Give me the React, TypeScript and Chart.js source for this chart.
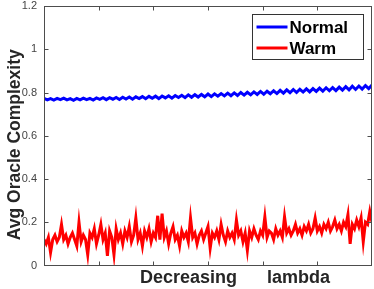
import React, { useEffect, useRef } from 'react';
import { Chart, registerables } from 'chart.js';
Chart.register(...registerables);

const seriesNames = ['Normal', 'Warm'];
const seriesColors = ['#0000ff', '#ff0000'];
const xTitle = 'Decreasing      lambda';
const yTitle = 'Avg Oracle Complexity';
const xMax = 300;
const xStep = 50;
const yMax = 1.2;
const yStep = 0.2;
const normalXStep = 3;
const warmXStep = 2;

const normalValues = [
  0.773, 0.766, 0.772, 0.765, 0.773, 0.767, 0.774, 0.766, 0.772, 0.764,
  0.773, 0.766, 0.774, 0.767, 0.773, 0.765, 0.775, 0.768, 0.776, 0.767,
  0.776, 0.769, 0.777, 0.768, 0.778, 0.770, 0.779, 0.769, 0.780, 0.772,
  0.781, 0.771, 0.782, 0.773, 0.783, 0.772, 0.784, 0.775, 0.785, 0.774,
  0.786, 0.777, 0.787, 0.776, 0.789, 0.778, 0.790, 0.779, 0.791, 0.780,
  0.793, 0.781, 0.794, 0.783, 0.795, 0.784, 0.797, 0.785, 0.798, 0.786,
  0.800, 0.788, 0.801, 0.789, 0.803, 0.791, 0.805, 0.792, 0.806, 0.794,
  0.808, 0.795, 0.810, 0.797, 0.812, 0.799, 0.814, 0.800, 0.815, 0.802,
  0.817, 0.803, 0.818, 0.805, 0.820, 0.806, 0.822, 0.808, 0.823, 0.809,
  0.825, 0.811, 0.827, 0.812, 0.829, 0.814, 0.830, 0.816, 0.832, 0.818,
  0.834,
];

const warmValues = [
  0.12, 0.10, 0.13, 0.06, 0.12, 0.14, 0.11, 0.13, 0.19, 0.12,
  0.14, 0.10, 0.13, 0.15, 0.12, 0.09, 0.20, 0.11, 0.14, 0.12,
  0.05, 0.15, 0.13, 0.17, 0.10, 0.14, 0.19, 0.12, 0.15, 0.045,
  0.16, 0.13, 0.05, 0.17, 0.12, 0.15, 0.10, 0.16, 0.13, 0.18,
  0.11, 0.14, 0.22, 0.12, 0.15, 0.09, 0.16, 0.13, 0.17, 0.11,
  0.15, 0.13, 0.23, 0.12, 0.24, 0.13, 0.16, 0.10, 0.15, 0.18,
  0.12, 0.14, 0.09, 0.16, 0.13, 0.15, 0.11, 0.22, 0.13, 0.15,
  0.10, 0.14, 0.16, 0.12, 0.15, 0.18, 0.08, 0.15, 0.13, 0.16,
  0.12, 0.19, 0.14, 0.11, 0.16, 0.13, 0.15, 0.12, 0.21, 0.14,
  0.16, 0.11, 0.15, 0.07, 0.16, 0.13, 0.17, 0.14, 0.12, 0.16,
  0.14, 0.225, 0.13, 0.16, 0.15, 0.12, 0.17, 0.14, 0.16, 0.13,
  0.225, 0.15, 0.17, 0.14, 0.16, 0.19, 0.15, 0.17, 0.14, 0.18,
  0.16, 0.19, 0.15, 0.17, 0.22, 0.16, 0.18, 0.15, 0.19, 0.17,
  0.20, 0.16, 0.18, 0.21, 0.17, 0.19, 0.16, 0.20, 0.18, 0.235,
  0.10, 0.19, 0.17, 0.21, 0.18, 0.22, 0.11, 0.20, 0.19, 0.25,
  0.20,
];

const FONT = '"Liberation Sans", Arial, Helvetica, sans-serif';

const decorPlugin = {
  id: 'decor',
  afterDatasetsDraw(chart: any) {
    const { ctx, chartArea: a, scales } = chart;
    const L = Math.round(a.left) + 0.5;
    const R = Math.round(a.right) - 0.5;
    const T = Math.round(a.top) + 0.5;
    const B = Math.round(a.bottom) - 0.5;
    ctx.save();
    // axes box
    ctx.strokeStyle = '#4d4d4d';
    ctx.lineWidth = 1;
    ctx.strokeRect(L, T, R - L, B - T);
    // inward ticks
    ctx.beginPath();
    for (const t of scales.x.ticks) {
      const px = Math.round(scales.x.getPixelForValue(t.value)) + 0.5;
      if (px <= L + 1 || px >= R - 1) continue;
      ctx.moveTo(px, B); ctx.lineTo(px, B - 4);
      ctx.moveTo(px, T); ctx.lineTo(px, T + 4);
    }
    for (const t of scales.y.ticks) {
      const py = Math.round(scales.y.getPixelForValue(t.value)) + 0.5;
      if (py <= T + 1 || py >= B - 1) continue;
      ctx.moveTo(L, py); ctx.lineTo(L + 4, py);
      ctx.moveTo(R, py); ctx.lineTo(R - 4, py);
    }
    ctx.stroke();

    // legend
    const bw = 111, bh = 45;
    const bx = Math.round(a.right) - 9 - bw + 0.5;
    const by = Math.round(a.top) + 8 + 0.5;
    ctx.fillStyle = '#ffffff';
    ctx.fillRect(bx, by, bw, bh);
    ctx.strokeStyle = '#333333';
    ctx.strokeRect(bx, by, bw, bh);
    ctx.font = `bold 17px ${FONT}`;
    ctx.textAlign = 'left';
    ctx.textBaseline = 'middle';
    seriesNames.forEach((name, i) => {
      const ly = by + 12.5 + i * 21;
      ctx.strokeStyle = seriesColors[i];
      ctx.lineWidth = 3;
      ctx.beginPath();
      ctx.moveTo(bx + 4, ly);
      ctx.lineTo(bx + 35, ly);
      ctx.stroke();
      ctx.fillStyle = '#000000';
      ctx.fillText(name, bx + 37, ly + 1);
    });

    // axis titles
    ctx.fillStyle = '#262626';
    ctx.font = `bold 18px ${FONT}`;
    ctx.textAlign = 'left';
    ctx.textBaseline = 'alphabetic';
    ctx.fillText(xTitle, a.left + 96, a.bottom + 17.5);
    ctx.save();
    ctx.translate(a.left - 24, (a.top + a.bottom) / 2 + 9);
    ctx.rotate(-Math.PI / 2);
    ctx.font = `bold 17.5px ${FONT}`;
    ctx.textAlign = 'center';
    ctx.fillText(yTitle, 0, 0);
    ctx.restore();
    ctx.restore();
  },
};

export default function App() {
  const ref = useRef<HTMLCanvasElement>(null);
  useEffect(() => {
    const canvas = ref.current;
    if (!canvas) return;
    const chart = new Chart(canvas, {
      type: 'line',
      data: {
        datasets: [
          {
            label: seriesNames[0],
            data: normalValues.map((v, i) => ({ x: i * normalXStep, y: v })),
            borderColor: seriesColors[0],
            borderWidth: 3,
            pointRadius: 0,
            tension: 0,
          },
          {
            label: seriesNames[1],
            data: warmValues.map((v, i) => ({ x: i * warmXStep, y: v })),
            borderColor: seriesColors[1],
            borderWidth: 3,
            pointRadius: 0,
            tension: 0,
          },
        ],
      },
      options: {
        responsive: false,
        animation: false,
        devicePixelRatio: 1,
        layout: { padding: { top: 6, right: 2, left: 0, bottom: 0 } },
        plugins: { legend: { display: false }, tooltip: { enabled: false } },
        scales: {
          x: {
            type: 'linear',
            min: 0,
            max: xMax,
            ticks: { display: false, stepSize: xStep },
            grid: { display: false, drawTicks: false },
            border: { display: false },
            afterFit: (s: any) => { s.height = 23.5; s.paddingLeft = 0; s.paddingRight = 0; },
          },
          y: {
            type: 'linear',
            min: 0,
            max: yMax,
            ticks: {
              stepSize: yStep,
              padding: 7,
              color: '#444444',
              font: { family: FONT, size: 11 },
              callback: (v: any) => String(Math.round(Number(v) * 10) / 10),
            },
            grid: { display: false, drawTicks: false },
            border: { display: false },
            afterFit: (s: any) => { s.width = 44; s.paddingTop = 0; s.paddingBottom = 0; },
          },
        },
      },
      plugins: [decorPlugin],
    });
    return () => chart.destroy();
  }, []);
  return (
    <div style={{ position: 'fixed', left: 0, top: 0, width: 374, height: 289, background: '#fff' }}>
      <canvas ref={ref} width={374} height={289} style={{ width: 374, height: 289, display: 'block' }} />
    </div>
  );
}
